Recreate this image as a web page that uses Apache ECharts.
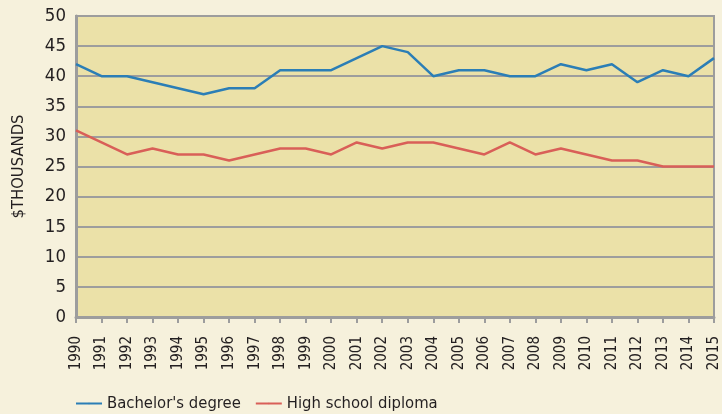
<!DOCTYPE html>
<html>
<head>
<meta charset="utf-8">
<script src="https://cdn.jsdelivr.net/npm/echarts@6/dist/echarts.min.js"></script>
<style>
  html, body { margin: 0; padding: 0; background: #f6f1dc; }
  #chart { width: 722px; height: 414px; }
</style>
</head>
<body>
<div id="chart"></div>
<script>
var years = ['1990','1991','1992','1993','1994','1995','1996','1997','1998','1999','2000','2001','2002',
  '2003','2004','2005','2006','2007','2008','2009','2010','2011','2012','2013','2014','2015'];
var bachelors = [42,40,40,39,38,37,38,38,41,41,41,43,45,44,40,41,41,40,40,42,41,42,39,41,40,43];
var highSchool = [31,29,27,28,27,27,26,27,28,28,27,29,28,29,29,28,27,29,27,28,27,26,26,25,25,25];

var font = '"DejaVu Sans Condensed", sans-serif';
var chart = echarts.init(document.getElementById('chart'));

var option = {
  backgroundColor: '#f6f1dc',
  animation: false,
  textStyle: { fontFamily: font, color: '#231f20' },
  grid: {
    left: 76, right: 8, top: 16, bottom: 97,
    show: true, backgroundColor: '#ebe1a8', borderColor: '#9d9d9d', borderWidth: 2
  },
  legend: {
    left: 70, top: 390,
    itemWidth: 26, itemHeight: 2, itemGap: 14,
    textStyle: { fontSize: 16.5, fontFamily: font, color: '#231f20' },
    data: ["Bachelor's degree", 'High school diploma']
  },
  xAxis: {
    type: 'category',
    data: years,
    boundaryGap: false,
    axisLine: { lineStyle: { color: '#9d9d9d', width: 3 } },
    axisTick: { show: true, length: 6, lineStyle: { color: '#9d9d9d', width: 2 } },
    axisLabel: { rotate: 90, fontSize: 15, color: '#231f20', margin: 19, interval: 0 },
    splitLine: { show: false }
  },
  yAxis: {
    type: 'value',
    min: 0, max: 50, interval: 5,
    name: '$THOUSANDS',
    nameLocation: 'middle',
    nameGap: 49,
    nameTextStyle: { fontSize: 16.5, color: '#231f20' },
    axisLine: { show: true, lineStyle: { color: '#9d9d9d', width: 3 } },
    axisTick: { show: false },
    axisLabel: { fontSize: 18.5, color: '#231f20', margin: 10 },
    splitLine: { lineStyle: { color: '#9d9d9d', width: 2 } }
  },
  series: [
    {
      name: "Bachelor's degree", type: 'line', data: bachelors,
      symbol: 'none', color: '#2b7eb6', lineStyle: { width: 2.5 }
    },
    {
      name: 'High school diploma', type: 'line', data: highSchool,
      symbol: 'none', color: '#d95f58', lineStyle: { width: 2.5 }
    }
  ]
};
chart.setOption(option);
</script>
</body>
</html>
